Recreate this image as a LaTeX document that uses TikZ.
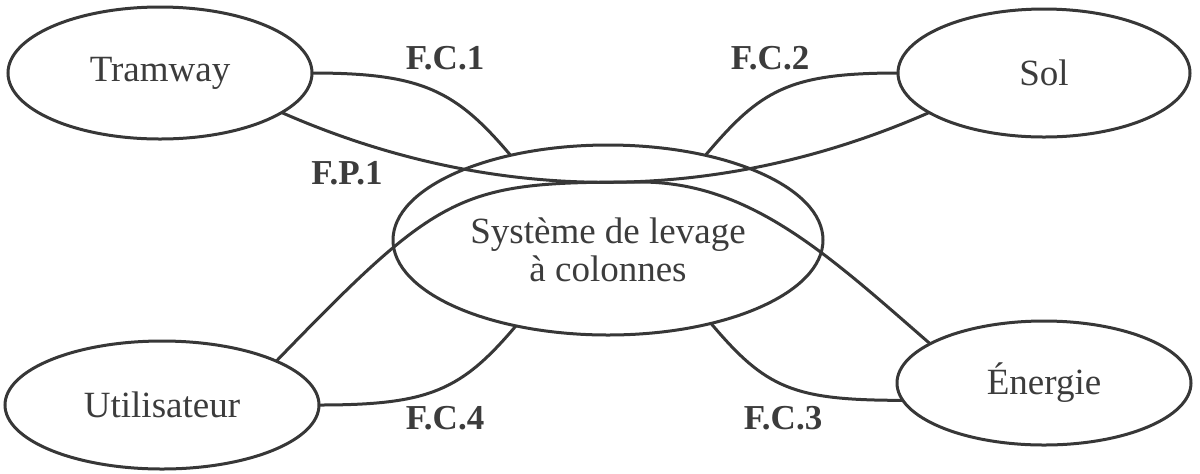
\documentclass[tikz,border=0pt]{standalone}
\usepackage{fontspec}
\setmainfont{Liberation Serif}
\usetikzlibrary{shapes.geometric}
\definecolor{ink}{RGB}{55,55,55}
\definecolor{txt}{RGB}{60,60,60}
\begin{document}
\begin{tikzpicture}[x=0.5pt,y=-0.5pt,
  box/.style={ellipse,draw=ink,line width=1.5pt,inner sep=0pt,outer sep=0pt,
    text=txt,font=\fontsize{18.5}{19}\selectfont,align=center},
  link/.style={draw=ink,line width=1.5pt},
  lab/.style={text=txt,font=\fontsize{17.5}{18}\selectfont\bfseries}]
\useasboundingbox (0,0) rectangle (1200,473);
% ellipses
\node[box,minimum width=152pt,minimum height=66pt] (tram) at (160,73) {Tramway};
\node[box,minimum width=146pt,minimum height=64pt] (sol) at (1044,73) {Sol};
\node[box,minimum width=215pt,minimum height=95pt] (sys) at (608,240)
  {\rule{0pt}{23pt}Système de levage\\à colonnes};
\node[box,minimum width=157pt,minimum height=64pt] (util) at (162,405) {Utilisateur};
\node[box,minimum width=147pt,minimum height=62pt] (ener) at (1044,383) {Énergie};
% connectors
\draw[link] (tram.east) .. controls +(110,0) and +(-55,-65) .. (sys.139);
\draw[link] (sol.west) .. controls +(-110,0) and +(55,-65) .. (sys.41);
\draw[link] (tram.-18) .. controls +(212,93) and +(-212,93) .. (sol.-161);
\draw[link] (util.21) .. controls (442,190) and (460,182) .. (640,182)
  .. controls (750,182) and (827,254) .. (ener.161);
\draw[link] (util.east) .. controls +(110,0) and +(-55,65) .. (sys.-137);
\draw[link] (ener.187) .. controls +(-110,0) and +(55,65) .. (sys.-39);
% labels
\node[lab] (fc1) at (445,58) {F.C.1};
\node[lab] (fc2) at (770,58) {F.C.2};
\node[lab] (fp1) at (347,173) {F.P.1};
\node[lab] (fc4) at (445,418) {F.C.4};
\node[lab] (fc3) at (783,418) {F.C.3};
\end{tikzpicture}
\end{document}
